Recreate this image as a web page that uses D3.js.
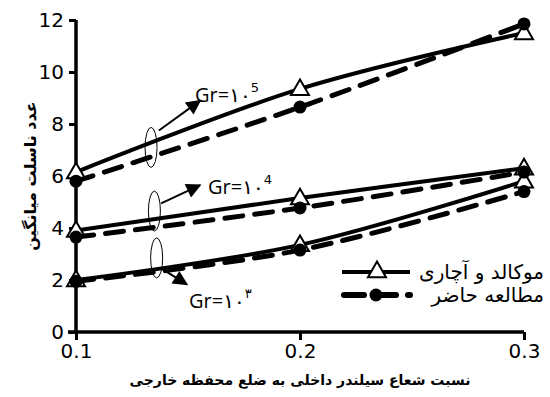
<!DOCTYPE html>
<html lang="fa">
<head>
<meta charset="utf-8">
<title>Nusselt</title>
<script src="https://d3js.org/d3.v7.min.js"></script>
<style>
  body { margin: 0; background: #fff; }
  text { font-family: "DejaVu Sans", "Noto Sans", sans-serif; }
</style>
</head>
<body>
<svg width="550" height="397"></svg>
<script>
// داده‌ها
var ratios = [0.1, 0.2, 0.3];
var yTicks = [0, 2, 4, 6, 8, 10, 12];

var mokGr5 = [6.15, 9.35, 11.5];
var mokGr4 = [3.9, 5.15, 6.3];
var mokGr3 = [2.0, 3.35, 5.8];

var presGr5 = [5.8, 8.65, 11.85];
var presGr4 = [3.65, 4.77, 6.15];
var presGr3 = [1.95, 3.15, 5.4];

var legendNames = ["موکالد و آچاری", "مطالعه حاضر"];
var grLabels = ["5", "4", "۳"];

var svg = d3.select("svg");

var x = d3.scaleLinear().domain([0.1, 0.3]).range([76, 524]);
var y = d3.scaleLinear().domain([0, 12]).range([332, 20]);

var numFont = "'Open Sans', 'DejaVu Sans', sans-serif";

// axes
var yAxis = svg.append("g")
    .attr("transform", "translate(76,0)")
    .call(d3.axisLeft(y).tickValues(yTicks).tickSize(7).tickPadding(5).tickFormat(d3.format("d")));
yAxis.select(".domain").attr("stroke-width", 3.5).attr("d", "M0," + y(12) + "V" + y(0));
yAxis.selectAll(".tick line").attr("stroke-width", 3);
yAxis.selectAll(".tick text").attr("font-size", 20).attr("fill", "#000").attr("font-family", numFont);

var xAxis = svg.append("g")
    .attr("transform", "translate(0," + y(0) + ")")
    .call(d3.axisBottom(x).tickValues(ratios).tickSize(8).tickPadding(4).tickFormat(d3.format(".1f")));
xAxis.select(".domain").attr("stroke-width", 3.5).attr("d", "M68,0H" + x(0.3));
xAxis.selectAll(".tick line").attr("stroke-width", 3);
xAxis.selectAll(".tick text").attr("font-size", 20).attr("fill", "#000").attr("font-family", numFont);

var line = d3.line()
    .x(function(d, i) { return x(ratios[i]); })
    .y(function(d) { return y(d); })
    .curve(d3.curveCatmullRom.alpha(0));

var tri = d3.symbol().type(d3.symbolTriangle).size(140);

// solid series (Mokald & Acharya)
[mokGr5, mokGr4, mokGr3].forEach(function(s) {
  svg.append("path").datum(s)
      .attr("fill", "none").attr("stroke", "#000").attr("stroke-width", 4)
      .attr("d", line);
  svg.selectAll(null).data(s).enter().append("path")
      .attr("d", tri)
      .attr("transform", function(d, i) { return "translate(" + x(ratios[i]) + "," + (y(d) + 1) + ")"; })
      .attr("fill", "#fff").attr("stroke", "#000").attr("stroke-width", 2);
});

// dashed series (present study)
[presGr5, presGr4, presGr3].forEach(function(s) {
  svg.append("path").datum(s)
      .attr("fill", "none").attr("stroke", "#000").attr("stroke-width", 5)
      .attr("stroke-dasharray", "18,12").attr("stroke-linecap", "round")
      .attr("d", line);
  svg.selectAll(null).data(s).enter().append("circle")
      .attr("cx", function(d, i) { return x(ratios[i]); })
      .attr("cy", function(d) { return y(d); })
      .attr("r", 6.5).attr("fill", "#000");
});

// annotations: ellipses, arrows, Gr labels
svg.append("defs").append("marker")
    .attr("id", "ah").attr("viewBox", "0 0 10 10").attr("refX", 9).attr("refY", 5)
    .attr("markerWidth", 17).attr("markerHeight", 15).attr("markerUnits", "userSpaceOnUse")
    .attr("orient", "auto")
  .append("path").attr("d", "M0,0L10,5L0,10Z").attr("fill", "#000");

var notes = [
  { cx: 0.1335, cy: 7.1, from: [0.137, 7.75], to: [0.1554, 8.9], tx: 195, ty: 102 },
  { cx: 0.135, cy: 4.65, from: [0.138, 4.95], to: [0.1554, 5.65], tx: 208, ty: 194 },
  { cx: 0.136, cy: 2.85, from: [0.138, 2.45], to: [0.1495, 1.83], tx: 189, ty: 308 }
];

notes.forEach(function(n, i) {
  svg.append("ellipse")
      .attr("cx", x(n.cx)).attr("cy", y(n.cy)).attr("rx", 6).attr("ry", 20)
      .attr("fill", "none").attr("stroke", "#000").attr("stroke-width", 1);
  svg.append("line")
      .attr("x1", x(n.from[0])).attr("y1", y(n.from[1]))
      .attr("x2", x(n.to[0])).attr("y2", y(n.to[1]))
      .attr("stroke", "#000").attr("stroke-width", 2)
      .attr("marker-end", "url(#ah)");
  var t = svg.append("text").attr("x", n.tx).attr("y", n.ty)
      .attr("font-size", 20).attr("fill", "#000").attr("direction", "ltr");
  t.append("tspan").attr("font-family", numFont).text("Gr=");
  t.append("tspan").text("۱۰");
  t.append("tspan").attr("dy", -10).attr("font-size", 13).text(grLabels[i]);
});

// legend
var lg = svg.append("g");
lg.append("line").attr("x1", 342).attr("x2", 410).attr("y1", 272).attr("y2", 272)
    .attr("stroke", "#000").attr("stroke-width", 4);
lg.append("path").attr("d", tri).attr("transform", "translate(377,272)")
    .attr("fill", "#fff").attr("stroke", "#000").attr("stroke-width", 2);
lg.append("line").attr("x1", 344).attr("x2", 410).attr("y1", 295).attr("y2", 295)
    .attr("stroke", "#000").attr("stroke-width", 6).attr("stroke-dasharray", "20,12")
    .attr("stroke-linecap", "round");
lg.append("circle").attr("cx", 376).attr("cy", 295).attr("r", 6.5).attr("fill", "#000");
lg.selectAll("text.lg").data(legendNames).enter().append("text")
    .attr("class", "lg")
    .attr("x", 544).attr("y", function(d, i) { return 279 + i * 23; })
    .attr("text-anchor", "start").attr("direction", "rtl")
    .attr("font-size", 20).attr("fill", "#000")
    .text(function(d) { return d; });

// axis titles
svg.append("text")
    .attr("transform", "translate(36,176) rotate(-90)")
    .attr("text-anchor", "middle").attr("direction", "rtl")
    .attr("font-size", 16).attr("font-weight", "bold").attr("fill", "#000")
    .text("عدد ناسلت میانگین");

svg.append("text")
    .attr("x", 300).attr("y", 385)
    .attr("text-anchor", "middle").attr("direction", "rtl")
    .attr("font-size", 14).attr("font-weight", "bold").attr("fill", "#000")
    .text("نسبت شعاع سیلندر داخلی به ضلع محفظه خارجی");
</script>
</body>
</html>
